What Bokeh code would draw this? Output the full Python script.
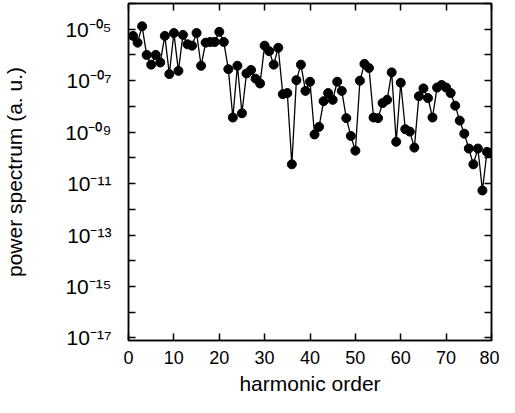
from bokeh.plotting import figure
from bokeh.models import (FixedTicker, CustomJSTickFormatter, LogAxis, LinearAxis,
                          ColumnDataSource)
from bokeh.embed import file_html
from bokeh.resources import INLINE

# harmonic order
harmonic = list(range(1, 81))
# power spectrum (a. u.)
power = [5.5e-6, 3.0e-6, 1.3e-5, 1.0e-6, 4.2e-7, 1.0e-6, 5.1e-7, 5.5e-6, 1.8e-7, 7.1e-6,
         2.4e-7, 6.0e-6, 2.6e-6, 2.3e-6, 7.1e-6, 3.8e-7, 3.0e-6, 3.2e-6, 3.2e-6, 7.9e-6,
         3.2e-6, 2.8e-7, 3.7e-9, 3.8e-7, 5.4e-9, 1.9e-7, 2.6e-7, 1.2e-7, 7.8e-8, 2.3e-6,
         1.4e-6, 4.2e-7, 1.9e-6, 3.0e-8, 3.3e-8, 5.6e-11, 1.05e-7, 4.2e-7, 4.0e-8, 9.1e-8,
         8.1e-10, 1.6e-9, 1.6e-8, 3.3e-8, 1.8e-8, 9.1e-8, 4.0e-8, 3.5e-9, 7.1e-10, 1.9e-10,
         1.0e-7, 4.5e-7, 3.1e-7, 3.7e-9, 3.5e-9, 1.35e-8, 1.8e-8, 2.1e-7, 4.2e-10, 8.3e-8,
         1.3e-9, 1.05e-9, 2.5e-10, 2.5e-8, 5.0e-8, 2.1e-8, 3.7e-9, 5.4e-8, 6.8e-8, 5.4e-8,
         3.3e-8, 1.07e-8, 2.8e-9, 8.7e-10, 2.3e-10, 5.6e-11, 2.3e-10, 5.4e-12, 1.7e-10, 1.55e-10]

x_ticks = [0, 10, 20, 30, 40, 50, 60, 70, 80]
# labelled decades and unlabelled decades on the log axis
y_major = [1e-17, 1e-15, 1e-13, 1e-11, 1e-9, 1e-7, 1e-5]
y_minor = [1e-16, 1e-14, 1e-12, 1e-10, 1e-8, 1e-6, 1e-4]

FONT = "Liberation Sans"

p = figure(width=499, height=397, y_axis_type="log",
           x_range=(0, 80), y_range=(10 ** -17.1, 1e-4),
           output_backend="svg", toolbar_location=None,
           min_border_left=0, min_border_right=8,
           min_border_top=3, min_border_bottom=0)
p.background_fill_color = "white"
p.border_fill_color = "white"
p.outline_line_color = "black"
p.outline_line_width = 1.5
p.xgrid.visible = False
p.ygrid.visible = False

src = ColumnDataSource(dict(x=harmonic, y=power))
p.line("x", "y", source=src, line_color="black", line_width=1.3)
p.scatter("x", "y", source=src, size=9, fill_color="black", line_color="black")

fmt = CustomJSTickFormatter(code="""
const e = Math.round(Math.log10(tick));
const sup = {"0":"\u2070","1":"\u00b9","2":"\u00b2","3":"\u00b3","4":"\u2074",
             "5":"\u2075","6":"\u2076","7":"\u2077","8":"\u2078","9":"\u2079","-":"\u207b"};
const s = (e < 0 ? "-" : "") + String(Math.abs(e)).padStart(2, "0");
return "10" + s.split("").map(c => sup[c]).join("");
""")

def style(ax):
    ax.axis_line_color = "black"
    ax.axis_line_width = 1.5
    ax.major_tick_line_color = "black"
    ax.major_tick_line_width = 1.5
    ax.major_tick_in = 7
    ax.major_tick_out = 0
    ax.minor_tick_line_color = "black"
    ax.minor_tick_line_width = 1.5
    ax.minor_tick_in = 7
    ax.minor_tick_out = 0
    ax.major_label_text_font = FONT
    ax.major_label_text_color = "black"
    ax.axis_label_text_font = FONT
    ax.axis_label_text_font_style = "normal"
    ax.axis_label_text_color = "black"

# bottom axis
xa = p.xaxis[0]
style(xa)
xa.ticker = FixedTicker(ticks=x_ticks, minor_ticks=[])
xa.axis_label = "harmonic order"
xa.major_label_text_font_size = "18px"
xa.axis_label_text_font_size = "21px"
xa.major_label_standoff = 10
xa.axis_label_standoff = 5

# left axis
ya = p.yaxis[0]
style(ya)
ya.ticker = FixedTicker(ticks=y_major, minor_ticks=y_minor)
ya.formatter = fmt
ya.axis_label = "power spectrum (a. u.)"
ya.major_label_text_font_size = "21px"
ya.axis_label_text_font_size = "21px"
ya.major_label_standoff = 17
ya.axis_label_standoff = 36

# mirrored axes (ticks only, no labels)
top = LinearAxis(ticker=FixedTicker(ticks=[], minor_ticks=x_ticks))
style(top)
top.major_label_standoff = 0
top.axis_label_standoff = 0
p.add_layout(top, "above")

right = LogAxis(ticker=FixedTicker(ticks=[], minor_ticks=y_major + y_minor))
style(right)
right.major_label_standoff = 0
right.axis_label_standoff = 0
p.add_layout(right, "right")

open("out.html", "w").write(file_html(p, INLINE))
